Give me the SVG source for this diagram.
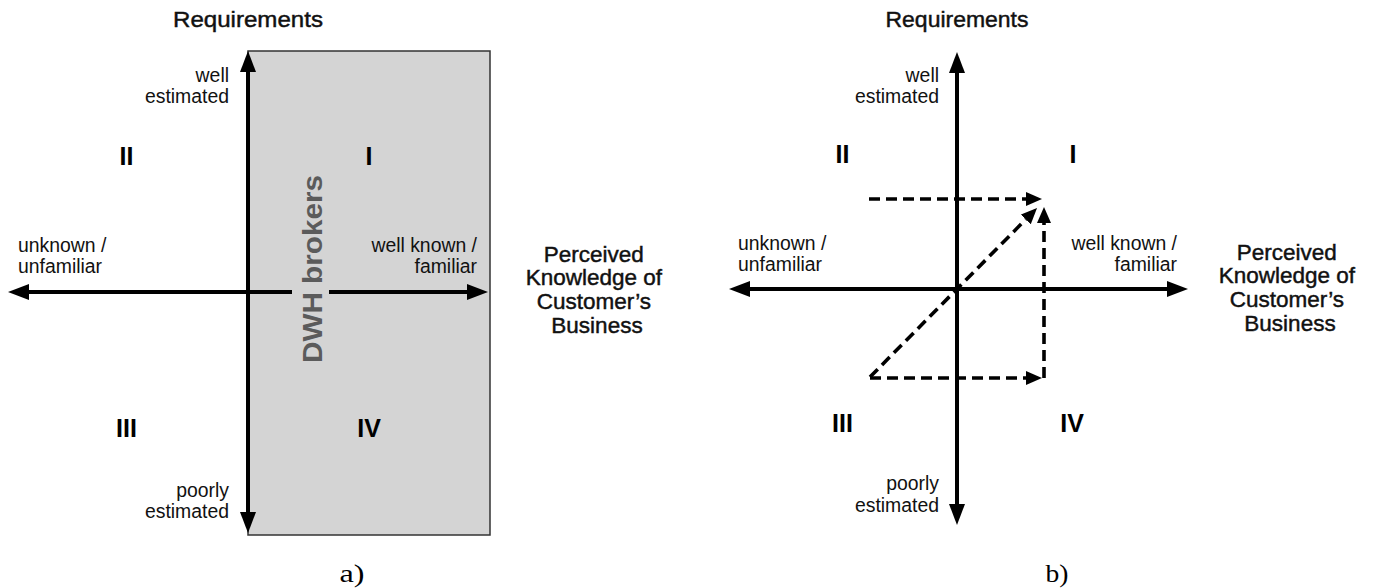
<svg xmlns="http://www.w3.org/2000/svg" width="1377" height="588" viewBox="0 0 1377 588">
  <style>
    .head { font-family: "Liberation Sans", Arial, sans-serif; font-size: 22.5px; fill: #111; stroke: #111; stroke-width: 0.45; }
    .lab { font-family: "Liberation Sans", Arial, sans-serif; font-size: 19.4px; fill: #111; }
    .num { font-family: "Liberation Sans", Arial, sans-serif; font-size: 25px; font-weight: bold; fill: #000; }
    .cap { font-family: "Liberation Serif", "Times New Roman", serif; font-size: 26px; fill: #000; }
    .axis { stroke: #000; stroke-width: 4; fill: none; }
    .dash { stroke: #000; stroke-width: 3.6; stroke-dasharray: 11 6; fill: none; }
  </style>
  <defs>
    <marker id="big" markerUnits="userSpaceOnUse" markerWidth="22" markerHeight="18" refX="0" refY="8" orient="auto-start-reverse">
      <path d="M0,0 L21,8 L0,16 z" fill="#000"/>
    </marker>
    <marker id="small" markerUnits="userSpaceOnUse" markerWidth="17" markerHeight="15" refX="0" refY="7" orient="auto">
      <path d="M0,0 L16,7 L0,14 z" fill="#000"/>
    </marker>
  </defs>

  <rect width="1377" height="588" fill="#fff"/>

  <!-- panel a -->
  <g id="brokers-zone">
    <rect x="248" y="51" width="242" height="484" fill="#d4d4d4" stroke="#333" stroke-width="1.5"/>
    <text transform="translate(322,269) rotate(-90)" text-anchor="middle" textLength="188" lengthAdjust="spacingAndGlyphs" font-family="Liberation Sans, Arial, sans-serif" font-size="28" font-weight="bold" fill="#5b5b5b">DWH brokers</text>
  </g>

  <g id="a-axes">
    <line class="axis" x1="248" y1="72" x2="248" y2="512" marker-start="url(#big)" marker-end="url(#big)"/>
    <line class="axis" x1="292" y1="292" x2="29" y2="292" marker-end="url(#big)"/>
    <line class="axis" x1="329" y1="292" x2="467" y2="292" marker-end="url(#big)"/>
  </g>

  <g id="a-labels">
    <text class="head" x="248" y="27" text-anchor="middle" textLength="150" lengthAdjust="spacingAndGlyphs">Requirements</text>
    <text class="lab" x="229" y="82" text-anchor="end">well</text>
    <text class="lab" x="229" y="103" text-anchor="end">estimated</text>
    <text class="lab" x="229" y="497" text-anchor="end">poorly</text>
    <text class="lab" x="229" y="518" text-anchor="end">estimated</text>
    <text class="lab" x="18" y="252">unknown /</text>
    <text class="lab" x="18" y="273">unfamiliar</text>
    <text class="lab" x="477" y="252" text-anchor="end">well known /</text>
    <text class="lab" x="477" y="273" text-anchor="end">familiar</text>
    <text class="num" x="126.5" y="165" text-anchor="middle">II</text>
    <text class="num" x="369" y="165" text-anchor="middle">I</text>
    <text class="num" x="126.5" y="437" text-anchor="middle">III</text>
    <text class="num" x="369" y="437" text-anchor="middle">IV</text>
    <text class="head" text-anchor="middle">
      <tspan x="597" y="262">Perceived</tspan>
      <tspan x="597" y="285">Knowledge of</tspan>
      <tspan x="597" y="309">Customer’s</tspan>
      <tspan x="597" y="333">Business</tspan>
    </text>
    <text class="cap" x="352" y="582" text-anchor="middle" textLength="25" lengthAdjust="spacingAndGlyphs">a)</text>
  </g>

  <!-- panel b -->
  <g id="b-axes">
    <line class="axis" x1="957" y1="73" x2="957" y2="504" marker-start="url(#big)" marker-end="url(#big)"/>
    <line class="axis" x1="750" y1="289" x2="1167" y2="289" marker-start="url(#big)" marker-end="url(#big)"/>
  </g>

  <g id="b-moves">
    <line class="dash" x1="869" y1="199" x2="1026" y2="199" marker-end="url(#small)"/>
    <line class="dash" x1="1044" y1="378" x2="1044" y2="223" marker-end="url(#small)"/>
    <line class="dash" x1="870" y1="377" x2="1025.8" y2="219.4" marker-end="url(#small)"/>
    <line class="dash" x1="870" y1="378" x2="1026" y2="378" marker-end="url(#small)"/>
  </g>

  <g id="b-labels">
    <text class="head" x="957" y="27" text-anchor="middle" textLength="143" lengthAdjust="spacingAndGlyphs">Requirements</text>
    <text class="lab" x="939" y="82" text-anchor="end">well</text>
    <text class="lab" x="939" y="103" text-anchor="end">estimated</text>
    <text class="lab" x="939" y="490" text-anchor="end">poorly</text>
    <text class="lab" x="939" y="512" text-anchor="end">estimated</text>
    <text class="lab" x="738" y="250">unknown /</text>
    <text class="lab" x="738" y="271">unfamiliar</text>
    <text class="lab" x="1177" y="250" text-anchor="end">well known /</text>
    <text class="lab" x="1177" y="271" text-anchor="end">familiar</text>
    <text class="num" x="842.5" y="163" text-anchor="middle">II</text>
    <text class="num" x="1073" y="163" text-anchor="middle">I</text>
    <text class="num" x="842.5" y="432" text-anchor="middle">III</text>
    <text class="num" x="1072" y="432" text-anchor="middle">IV</text>
    <text class="head" text-anchor="middle">
      <tspan x="1290" y="260">Perceived</tspan>
      <tspan x="1290" y="283">Knowledge of</tspan>
      <tspan x="1290" y="307">Customer’s</tspan>
      <tspan x="1290" y="331">Business</tspan>
    </text>
    <text class="cap" x="1057" y="582" text-anchor="middle" textLength="23" lengthAdjust="spacingAndGlyphs">b)</text>
  </g>
</svg>
